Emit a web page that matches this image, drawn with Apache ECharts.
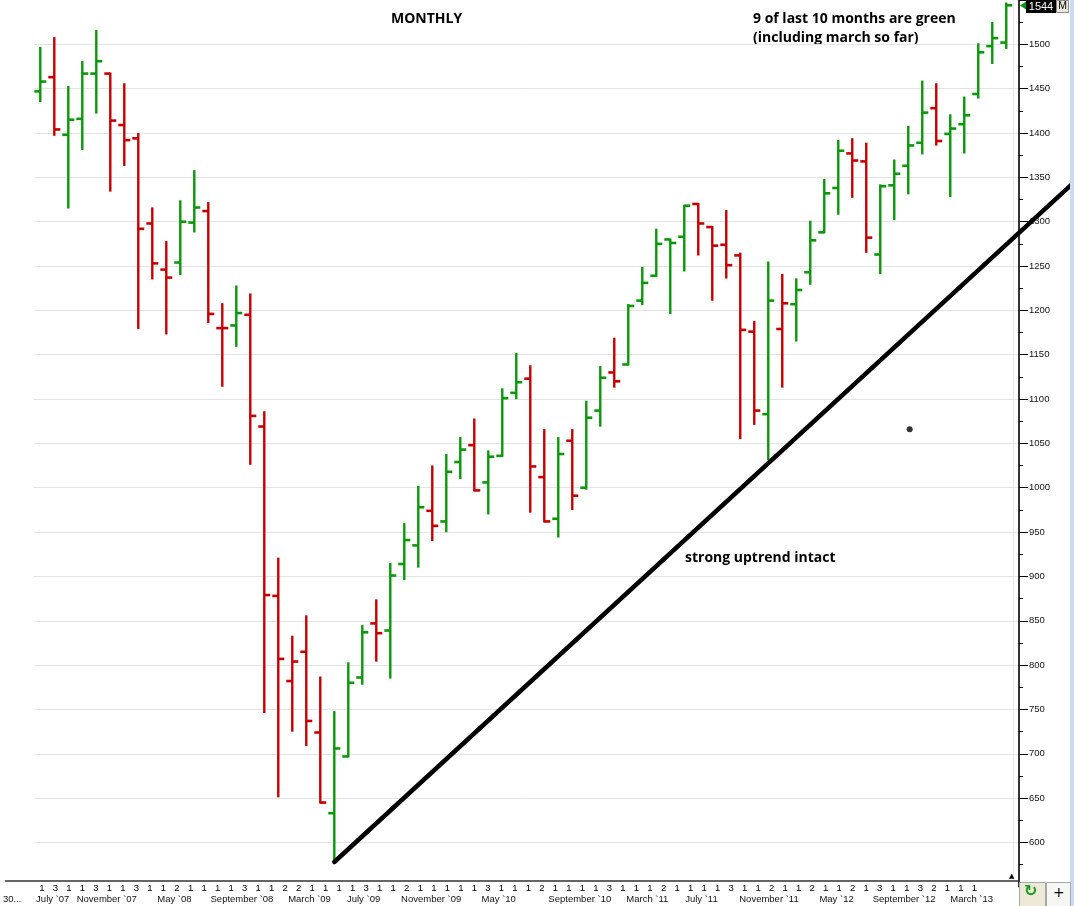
<!DOCTYPE html>
<html>
<head>
<meta charset="utf-8">
<script src="https://cdn.jsdelivr.net/npm/echarts@6/dist/echarts.min.js"></script>
<style>
html,body{margin:0;padding:0;background:#fff;}
#chart{width:1074px;height:906px;}
</style>
</head>
<body>
<div id="chart"></div>
<script>
// Monthly OHLC bars, June 2007 .. March 2013 (index 0..69)
const opens  = [1447,1463,1398,1416,1467,1467,1409,1394,1298,1246,1254,1299,1312,1180,1183,1195,1069,878,782,815,
                724,633,697,786,847,839,914,935,974,962,1029,1048,1006,1036,1107,1123,1012,965,1053,1000,
                1087,1130,1139,1211,1239,1280,1283,1320,1294,1274,1262,1176,1083,1179,1207,1243,1288,1338,1377,1368,
                1263,1341,1363,1389,1428,1399,1410,1444,1498,1502];
const highs  = [1496,1507,1452,1480,1515,1467,1455,1399,1315,1277,1323,1357,1321,1207,1227,1218,1085,920,832,855,
                786,747,802,844,873,914,959,1001,1024,1037,1056,1077,1041,1111,1151,1137,1065,1056,1065,1097,
                1136,1168,1206,1248,1291,1280,1318,1320,1294,1312,1264,1187,1254,1240,1235,1300,1347,1391,1393,1388,
                1341,1369,1407,1458,1455,1420,1440,1500,1524,1546];
const lows   = [1436,1398,1316,1382,1423,1335,1364,1180,1236,1174,1241,1289,1187,1115,1160,1027,747,652,726,710,
                645,578,697,779,805,786,897,911,941,951,1011,997,971,1036,1101,973,962,945,976,999,
                1070,1114,1139,1207,1239,1197,1245,1263,1212,1237,1056,1072,1032,1114,1166,1230,1288,1309,1328,1266,
                1242,1303,1332,1377,1387,1329,1378,1440,1479,1496];
const closes = [1458,1404,1415,1467,1481,1414,1392,1292,1253,1237,1300,1316,1196,1180,1197,1081,879,807,804,737,
                645,706,780,837,836,901,941,978,957,1018,1043,997,1035,1101,1119,1024,962,1038,991,1079,
                1124,1120,1205,1231,1275,1276,1318,1298,1273,1251,1178,1087,1211,1208,1223,1279,1332,1380,1369,1282,
                1340,1354,1386,1423,1391,1405,1420,1491,1507,1544];

// first-trading-day digits under each month tick
const tickDigits = [1,3,1,1,3,1,1,3,1,1,2,1,1,1,1,3,1,1,2,2,1,1,1,1,3,1,1,2,1,1,1,1,1,3,1,1,
                    1,2,1,1,1,1,3,1,1,1,2,1,1,1,1,3,1,1,2,1,1,2,1,1,2,1,3,1,1,3,2,1,1,1];
// month captions: [tick index, text]
const monthMarks = [[-2,'30...'],[1,'July `07'],[5,'November `07'],[10,'May `08'],[15,'September `08'],
                    [20,'March `09'],[24,'July `09'],[29,'November `09'],[34,'May `10'],[40,'September `10'],
                    [45,'March `11'],[49,'July `11'],[54,'November `11'],[59,'May `12'],[64,'September `12'],[69,'March `13']];

// annotation: trend line from the March 2009 low (start x, start y, end x, end y), and a stray dot
const trendLine = [[21, 578, 73.6, 1341]];
const dotPoint = [[62.1, 1066]];

const GREEN = '#0a980a', RED = '#c40000';
const FONT = 'Liberation Sans';

const ohlc = opens.map((o, i) => [i, o, closes[i], lows[i], highs[i]]);
const lastClose = closes[closes.length - 1];

// tick axis categories (2 leading blanks, 70 ticks, 3 trailing blanks)
const LEAD = 2, TRAIL = 3;
const tickCats = [];
for (let j = 0; j < LEAD; j++) tickCats.push('');
tickDigits.forEach(d => tickCats.push(String(d)));
for (let j = 0; j < TRAIL; j++) tickCats.push('');
const monthCats = tickCats.map(() => '');
monthMarks.forEach(([k, t]) => { monthCats[k + LEAD] = t; });

const chart = echarts.init(document.getElementById('chart'), null, {renderer: 'canvas'});

const option = {
  backgroundColor: '#ffffff',
  animation: false,
  grid: [
    {left: 34, right: 55, top: 0, bottom: 19.2},
    {left: 0, right: 55, top: 880, height: 1}
  ],
  xAxis: [
    {gridIndex: 0, type: 'value', min: -0.45, max: 69.91, show: false},
    {gridIndex: 1, type: 'category', data: tickCats, position: 'bottom', boundaryGap: true,
     axisLine: {onZero: false, lineStyle: {color: '#333', width: 1.5}},
     axisTick: {alignWithLabel: true, length: 5, interval: (idx, val) => val !== '', lineStyle: {color: '#333'}},
     axisLabel: {interval: 0, align: 'left', margin: 2, fontSize: 9.5, fontFamily: FONT, color: '#000'},
     splitLine: {show: false}},
    {gridIndex: 1, type: 'category', data: monthCats, position: 'bottom', boundaryGap: true, offset: 0,
     axisLine: {show: false}, axisTick: {show: false},
     axisLabel: {interval: 0, margin: 13, fontSize: 9.5, fontFamily: FONT, color: '#111'},
     splitLine: {show: false}}
  ],
  yAxis: [
    {gridIndex: 0, type: 'value', position: 'right', min: 550, max: 1550, interval: 50,
     axisLine: {show: true, onZero: false, lineStyle: {color: '#000', width: 1.6}},
     axisTick: {show: true, length: 9, lineStyle: {color: '#000'}},
     minorTick: {show: true, splitNumber: 2, length: 4, lineStyle: {color: '#000'}},
     axisLabel: {margin: 10, fontSize: 9.5, fontFamily: FONT, color: '#111', showMinLabel: false, showMaxLabel: false,
                 verticalAlign: 'middle', padding: [0, 0, 6, 0], formatter: v => String(v)},
     splitLine: {show: true, showMinLine: false, showMaxLine: false, lineStyle: {color: '#e4e4e4', width: 1}}},
    {gridIndex: 1, type: 'value', min: 0, max: 1, show: false}
  ],
  series: [
    {
      type: 'custom',
      xAxisIndex: 0, yAxisIndex: 0,
      data: ohlc,
      encode: {x: 0, y: [1, 2, 3, 4]},
      renderItem: function (params, api) {
        const i = api.value(0);
        const o = api.coord([i, api.value(1)]);
        const c = api.coord([i, api.value(2)]);
        const l = api.coord([i, api.value(3)]);
        const h = api.coord([i, api.value(4)]);
        const up = i === 0 ? true : closes[i] >= closes[i - 1];
        const col = up ? GREEN : RED;
        return {
          type: 'group',
          children: [
            {type: 'line', shape: {x1: h[0], y1: h[1] - 1, x2: l[0], y2: l[1] + 1}, style: {stroke: col, lineWidth: 2.4}},
            {type: 'line', shape: {x1: o[0] - 6, y1: o[1], x2: o[0], y2: o[1]}, style: {stroke: col, lineWidth: 2.6}},
            {type: 'line', shape: {x1: c[0], y1: c[1], x2: c[0] + 6, y2: c[1]}, style: {stroke: col, lineWidth: 2.6}}
          ]
        };
      }
    },
    {
      // trend line, drawn through the axes, allowed to run past the plot edge
      type: 'custom', xAxisIndex: 0, yAxisIndex: 0, clip: false, silent: true, z: 5,
      data: trendLine,
      encode: {x: [0, 2], y: [1, 3]},
      renderItem: function (params, api) {
        const a = api.coord([api.value(0), api.value(1)]);
        const b = api.coord([api.value(2), api.value(3)]);
        return {type: 'line', shape: {x1: a[0], y1: a[1], x2: b[0], y2: b[1]},
                style: {stroke: '#000', lineWidth: 4.5, lineCap: 'round'}};
      }
    },
    {
      type: 'scatter', xAxisIndex: 0, yAxisIndex: 0,
      data: dotPoint, symbolSize: 6, itemStyle: {color: '#000'}, silent: true
    },
    {
      // last-price tag on the price axis
      type: 'custom', xAxisIndex: 0, yAxisIndex: 0, clip: false, silent: true, z: 20,
      data: [[closes.length - 1, lastClose]],
      encode: {x: 0, y: 1},
      renderItem: function (params, api) {
        const cs = params.coordSys;
        const px = cs.x + cs.width;
        const py = Math.max(api.coord([api.value(0), api.value(1)])[1], cs.y + 6.5);
        return {
          type: 'group',
          children: [
            {type: 'polygon', shape: {points: [[px + 1, py - 1], [px + 7, py - 5], [px + 7, py + 3]]}, style: {fill: GREEN}},
            {type: 'rect', shape: {x: px + 7, y: py - 6.5, width: 30, height: 13}, style: {fill: '#000'}},
            {type: 'text', style: {x: px + 22, y: py, text: String(api.value(1)), fill: '#fff',
              font: '11px "Liberation Sans"', textAlign: 'center', textVerticalAlign: 'middle'}},
            {type: 'rect', shape: {x: px + 37.5, y: py - 6, width: 12, height: 12}, style: {fill: '#ece9d8', stroke: '#8a8a8a', lineWidth: 1}},
            {type: 'text', style: {x: px + 43.5, y: py, text: 'M', fill: '#000',
              font: '10.5px "Liberation Sans"', textAlign: 'center', textVerticalAlign: 'middle'}}
          ]
        };
      }
    }
  ],
  graphic: [
    {type: 'text', left: 391, top: 12, style: {text: 'MONTHLY', font: 'bold 14px "Open Sans"', fill: '#000'}},
    {type: 'text', left: 753, top: 12, style: {text: '9 of last 10 months are green', font: 'bold 14px "Open Sans"', fill: '#000'}},
    {type: 'text', left: 753, top: 31, style: {text: '(including march so far)', font: 'bold 14px "Open Sans"', fill: '#000'}},
    {type: 'text', left: 685, top: 551, style: {text: 'strong uptrend intact', font: 'bold 14px "Open Sans"', fill: '#000'}},
    {type: 'line', shape: {x1: 1013.5, y1: 0, x2: 1013.5, y2: 880}, style: {stroke: '#e8e8e8', lineWidth: 1}, z: -1},
    {type: 'rect', left: 1070, top: 0, shape: {width: 4, height: 906}, style: {fill: '#c9dcf2'}, z: 10},
    {type: 'rect', left: 1019, top: 882, shape: {width: 26, height: 24}, style: {fill: '#ece9d8', stroke: '#a8a8a8', lineWidth: 1}, z: 10},
    {type: 'text', left: 1024, top: 884, style: {text: '↻', font: 'bold 16px "DejaVu Sans"', fill: '#1a9a1a'}, z: 11},
    {type: 'rect', left: 1046, top: 882, shape: {width: 24, height: 24}, style: {fill: '#f6f6f4', stroke: '#a8a8a8', lineWidth: 1}, z: 10},
    {type: 'text', left: 1053, top: 886, style: {text: '+', font: '14px "DejaVu Sans"', fill: '#000'}, z: 11},
    {type: 'text', left: 1009, top: 873, style: {text: '▲', font: '7px "DejaVu Sans"', fill: '#000'}, z: 11}
  ]
};
chart.setOption(option);
</script>
</body>
</html>
